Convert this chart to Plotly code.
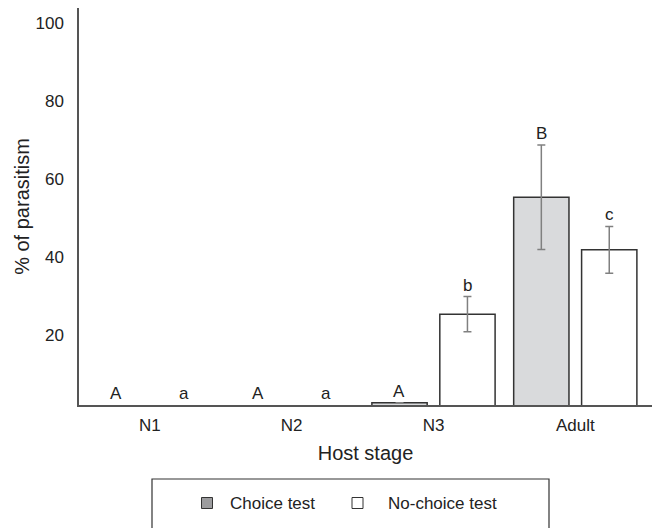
import plotly.graph_objects as go

stages = ["N1", "N2", "N3", "Adult"]
choice_vals = [0, 0, 2.6, 55.3]
choice_err = [0, 0, 0, 13.4]
choice_letters = ["A", "A", "A", "B"]
nochoice_vals = [0, 0, 25.3, 41.8]
nochoice_err = [0, 0, 4.5, 6.0]
nochoice_letters = ["a", "a", "b", "c"]
y_ticks = [20, 40, 60, 80, 100]

FONT = "Liberation Sans, Arial, Helvetica, sans-serif"
TXT = "#222222"
EDGE = "#333333"

W, H = 655, 528
L, R, T, B = 79, 3, 8, 123
pw, ph = W - L - R, H - T - B


def px(x):
    return (x - L) / pw


def py(y):
    return (H - B - y) / ph


fig = go.Figure()
fig.add_trace(go.Bar(
    x=stages, y=choice_vals, name="Choice test",
    marker=dict(color="#d9dadc", line=dict(color=EDGE, width=1.5)),
    error_y=dict(type="data", array=choice_err, visible=True,
                 color="#808080", thickness=1.5, width=4),
))
fig.add_trace(go.Bar(
    x=stages, y=nochoice_vals, name="No-choice test",
    marker=dict(color="#ffffff", line=dict(color=EDGE, width=1.5)),
    error_y=dict(type="data", array=nochoice_err, visible=True,
                 color="#808080", thickness=1.5, width=4),
))

ymin = 2
annotations = []
for i, s in enumerate(stages):
    for vals, errs, letters, shift in [(choice_vals, choice_err, choice_letters, -34),
                                        (nochoice_vals, nochoice_err, nochoice_letters, 34)]:
        top = max(vals[i] + errs[i], ymin)
        annotations.append(dict(
            x=s, y=top, xref="x", yref="y", text=letters[i], showarrow=False,
            xshift=shift, yshift=0, yanchor="bottom",
            font=dict(family=FONT, size=17, color=TXT),
        ))

annotations.append(dict(x=px(228), y=py(503), xref="paper", yref="paper", text="Choice test",
                        showarrow=False, xanchor="left", yanchor="middle",
                        font=dict(family=FONT, size=17, color=TXT)))
annotations.append(dict(x=px(386), y=py(503), xref="paper", yref="paper", text="No-choice test",
                        showarrow=False, xanchor="left", yanchor="middle",
                        font=dict(family=FONT, size=17, color=TXT)))

shapes = [
    dict(type="rect", xref="paper", yref="paper", x0=px(152), x1=px(549), y0=py(540), y1=py(479),
         line=dict(color=EDGE, width=1.2), fillcolor="rgba(0,0,0,0)", layer="above"),
    dict(type="rect", xref="paper", yref="paper", x0=px(201.5), x1=px(212.5), y0=py(508.5), y1=py(497.5),
         line=dict(color=EDGE, width=1), fillcolor="#9c9c9e", layer="above"),
    dict(type="rect", xref="paper", yref="paper", x0=px(352), x1=px(363), y0=py(508.5), y1=py(497.5),
         line=dict(color=EDGE, width=1), fillcolor="#ffffff", layer="above"),
]

fig.update_layout(
    width=W, height=H,
    margin=dict(l=L, r=R, t=T, b=B),
    paper_bgcolor="white", plot_bgcolor="white",
    barmode="group", bargap=0.042, bargroupgap=0.186,
    showlegend=False,
    font=dict(family=FONT, color=TXT),
    xaxis=dict(
        range=[-0.5, 3.541], showline=True, linecolor="#555555", linewidth=1.5,
        ticks="", showgrid=False, zeroline=False, automargin=False,
        ticklabelstandoff=4,
        tickfont=dict(family=FONT, size=17, color=TXT),
        title=dict(text="Host stage", font=dict(family=FONT, size=20, color=TXT), standoff=12),
    ),
    yaxis=dict(
        range=[ymin, 103.8], showline=True, linecolor="#555555", linewidth=1.5,
        ticks="", showgrid=False, zeroline=False, automargin=False,
        tickvals=y_ticks, ticklabelstandoff=10,
        tickfont=dict(family=FONT, size=17, color=TXT),
        title=dict(text="% of parasitism", font=dict(family=FONT, size=20, color=TXT), standoff=0),
    ),
    annotations=annotations,
    shapes=shapes,
)

fig.write_html(
    "out.html",
    config={"displayModeBar": False},
    post_script="document.body.style.margin='0';document.body.style.overflow='hidden';",
)
